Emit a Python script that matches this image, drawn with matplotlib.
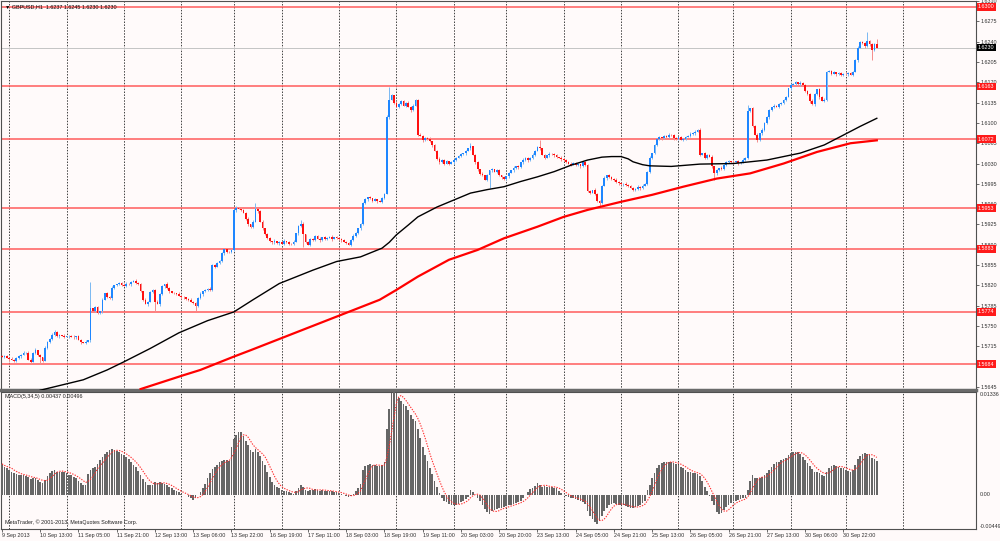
import numpy as np
import pandas as pd
import matplotlib.pyplot as plt
from matplotlib.transforms import blended_transform_factory

# GBPUSD H1, closes in pips above 1.5600 (one row = 24 bars)
close_pips = [
    97, 98, 95, 93, 92, 90, 94, 98, 100, 103, 104, 92, 88, 104, 108, 100, 96, 90, 112, 122, 128, 135, 140, 132,
    134, 133, 131, 132, 133, 131, 130, 132, 126, 122, 121, 123, 125, 180, 176, 182, 172, 175, 195, 206, 200, 198, 215, 220,
    222, 224, 221, 219, 223, 222, 226, 228, 224, 222, 210, 195, 188, 192, 208, 212, 192, 188, 205, 218, 222, 215, 210, 207,
    206, 205, 202, 200, 199, 196, 195, 192, 190, 184, 198, 205, 210, 212, 214, 212, 255, 252, 258, 262, 275, 282, 278, 277,
    280, 350, 354, 352, 350, 345, 335, 325, 320, 330, 352, 348, 330, 318, 308, 302, 296, 294, 296, 293, 295, 292, 296, 294,
    292, 291, 295, 310, 322, 326, 308, 295, 290, 300, 298, 305, 300, 298, 303, 300, 302, 304, 300, 303, 302, 299, 298, 295,
    293, 290, 298, 305, 310, 318, 325, 362, 368, 372, 370, 366, 368, 365, 364, 370, 378, 510, 540, 548, 535, 528, 532, 538,
    530, 535, 528, 522, 530, 540, 480, 478, 470, 474, 472, 468, 462, 452, 438, 432, 436, 430, 434, 430, 432, 436, 440, 443,
    446, 448, 452, 456, 460, 445, 432, 420, 412, 410, 402, 410, 418, 420, 416, 419, 410, 406, 403, 408, 414, 418, 422, 425,
    424, 432, 436, 440, 436, 440, 445, 452, 458, 456, 445, 440, 444, 447, 446, 444, 441, 440, 438, 436, 433, 430, 428, 431,
    427, 429, 425, 432, 428, 382, 380, 384, 378, 365, 362, 392, 405, 410, 406, 404, 402, 398, 396, 394, 395, 393, 392, 388,
    384, 386, 390, 388, 392, 395, 415, 440, 448, 462, 472, 475, 474, 478, 476, 480, 479, 474, 472, 475, 471, 473, 476, 478,
    481, 483, 485, 488, 445, 448, 440, 445, 442, 425, 414, 418, 422, 420, 428, 432, 434, 433, 432, 434, 431, 433, 436, 440,
    520, 525, 495, 480, 470, 482, 488, 500, 510, 522, 527, 530, 528, 532, 535, 540, 545, 560, 566, 568, 570, 567, 569, 566,
    555, 550, 538, 532, 550, 558, 545, 538, 540, 588, 590, 585, 587, 584, 586, 583, 585, 584, 586, 583, 588, 608, 630, 640,
    638, 632, 642, 636, 626, 637, 630,
]
first_open = 1.5698

# wick lengths in pips beyond the body, one digit per bar
up_wick = (
    "212131221312213121321231" "213121312212131221312131" "121321213121312213121321"
    "213121231213121312213121" "312131221312131221312131" "213121312212131221312131"
    "121321213121312213121321" "213121231213121312213121" "312131221312131221312131"
    "213121312212131221312131" "121321213121312213121321" "213121231213121312213121"
    "312131221312131221312131" "213121312212131221312131" "121321213121312213121321"
    "2131218"
)
dn_wick = (
    "121312213121312213121321" "312131221312131221312132" "213121312212131221312131"
    "121321213121312213121321" "213121231213121312213121" "312131221312131221312131"
    "213121312212131221312131" "121321213121312213121321" "213121231213121312213121"
    "312131221312131221312131" "213121312212131221312131" "121321213121312213121321"
    "213121231213121312213121" "312131221312131221312131" "213121312212131221312131"
    "1213120"
)
spike_highs = [(37, 226), (106, 362), (125, 332), (162, 562), (196, 465), (225, 470), (312, 531), (362, 657)]
spike_lows = [(16, 84), (64, 174), (81, 176), (126, 286), (204, 387), (250, 355), (298, 401), (364, 608)]

# moving averages (bar index, pips above 1.5600)
black_bars = [16, 34, 44, 51, 62, 74, 86, 97, 105, 116, 130, 140, 150, 159, 162, 165, 170, 174, 182, 189, 196, 203,
              210, 217, 224, 231, 238, 245, 251, 255, 259, 262, 264, 268, 271, 280, 292, 306, 320, 334, 344, 352, 359, 366]
black_pips = [39, 57, 74, 88, 111, 138, 159, 174, 195, 223, 246, 261, 269, 284, 294, 307, 324, 338, 355, 367, 379, 385,
              390, 399, 407, 416, 427, 436, 441, 442, 442, 438, 433, 428, 426, 425, 429, 430, 436, 448, 462, 479, 494, 508]
red_bars = [58, 76, 83, 97, 104, 158, 165, 174, 187, 199, 210, 224, 235, 245, 259, 272, 285, 299, 313, 327, 341, 355, 366]
red_pips = [41, 65, 74, 97, 108, 195, 212, 235, 264, 281, 301, 321, 338, 350, 364, 376, 390, 404, 413, 430, 450, 465, 470]

levels = [1.6300, 1.6163, 1.6072, 1.5953, 1.5883, 1.5774, 1.5684]
bid = 1.6230

# MACD(5,34,5) main line, in 0.001
macd_vals = [
    4.0, 3.6, 3.4, 3.2, 3.0, 2.8, 2.7, 2.6, 2.5, 2.5, 2.4, 2.3, 2.0, 2.1, 2.2, 1.9, 1.6, 1.5, 1.9, 2.4, 2.8, 3.1, 3.2, 3.0,
    3.0, 3.0, 2.9, 2.8, 2.6, 2.5, 2.3, 2.1, 1.8, 1.5, 1.3, 1.2, 2.7, 3.2, 3.4, 3.6, 4.0, 4.5, 4.9, 5.3, 5.6, 5.8, 5.9, 5.8,
    5.7, 5.5, 5.3, 5.1, 4.9, 4.6, 4.3, 3.9, 3.6, 3.1, 2.6, 2.0, 1.6, 1.3, 1.2, 1.3, 1.6, 1.5, 1.6, 1.5, 1.4, 1.2, 1.0, 0.8,
    0.6, 0.4, 0.3, 0.1, 0.0, -0.1, -0.3, -0.5, -0.7, -0.4, -0.1, 0.3, 0.8, 1.4, 2.2, 2.8, 3.3, 3.6, 3.9, 4.2, 4.4, 4.5, 4.5, 4.4,
    6.2, 7.2, 7.8, 8.2, 8.1, 7.6, 7.0, 6.4, 5.8, 5.6, 5.9, 5.6, 5.0, 4.4, 3.8, 3.0, 2.3, 1.6, 1.2, 1.0, 0.8, 0.6, 0.5, 0.4,
    0.3, 0.2, 0.1, 0.4, 0.9, 1.3, 1.0, 0.6, 0.5, 0.6, 0.6, 0.7, 0.6, 0.5, 0.6, 0.5, 0.5, 0.4, 0.4, 0.3, 0.3, 0.2, 0.1, -0.1,
    -0.2, -0.3, -0.2, 0.1, 0.4, 0.8, 1.4, 3.2, 3.7, 3.9, 4.0, 3.9, 3.8, 3.7, 3.7, 3.8, 4.2, 8.5, 11.2, 13.2, 13.36, 13.2, 12.6, 12.2,
    11.8, 11.5, 11.0, 10.4, 9.9, 9.6, 8.6, 7.4, 6.2, 5.2, 4.4, 3.5, 2.7, 1.8, 1.0, 0.2, -0.4, -0.8, -1.0, -1.2, -1.3, -1.4, -1.3, -1.2,
    -1.0, -0.8, -0.6, -0.3, 0.6, 0.3, 0.0, -0.4, -0.9, -1.4, -1.9, -2.3, -2.6, -2.2, -2.0, -1.9, -1.8, -1.7, -1.6, -1.5, -1.4, -1.3, -1.2, -1.1,
    -1.0, -0.8, -0.5, -0.1, 0.3, 0.7, 0.9, 1.1, 1.5, 1.3, 1.0, 1.1, 1.0, 1.0, 1.0, 0.9, 0.8, 0.5, 0.2, 0.0, -0.2, -0.3, -0.4, -0.5,
    -0.6, -0.7, -0.8, -1.0, -1.2, -2.2, -2.8, -3.2, -3.6, -3.9, -3.4, -2.8, -2.2, -1.7, -1.4, -1.2, -1.1, -1.2, -1.3, -1.3, -1.4, -1.5, -1.6, -1.7,
    -1.7, -1.6, -1.5, -1.3, -1.1, -0.8, 0.6, 1.3, 2.1, 2.8, 3.4, 3.9, 4.1, 4.3, 4.3, 4.3, 4.2, 4.1, 4.0, 3.9, 3.6, 3.4, 3.2, 3.0,
    2.9, 2.8, 2.8, 2.7, 2.4, 1.7, 1.0, 0.4, -0.2, -0.8, -1.4, -2.3, -2.6, -2.4, -2.0, -1.6, -1.3, -1.1, -0.9, -0.8, -0.7, -0.6, -0.5, -0.4,
    0.6, 1.8, 2.5, 2.2, 2.1, 2.2, 2.3, 2.5, 2.8, 3.2, 3.6, 4.0, 4.2, 4.3, 4.5, 4.6, 4.8, 5.2, 5.4, 5.6, 5.6, 5.5, 5.3, 4.9,
    4.5, 4.1, 3.7, 3.3, 3.0, 3.0, 2.8, 2.6, 2.4, 3.0, 3.4, 3.7, 3.8, 3.7, 3.6, 3.5, 3.4, 3.2, 3.1, 3.0, 3.2, 3.8, 4.6, 5.0,
    5.3, 5.4, 5.3, 5.1, 4.8, 4.6, 4.37,
]

date_labels = ["9 Sep 2013", "10 Sep 13:00", "11 Sep 05:00", "11 Sep 21:00", "12 Sep 13:00", "13 Sep 06:00",
               "13 Sep 22:00", "16 Sep 19:00", "17 Sep 11:00", "18 Sep 03:00", "18 Sep 19:00", "19 Sep 11:00",
               "20 Sep 03:00", "20 Sep 20:00", "23 Sep 13:00", "24 Sep 05:00", "24 Sep 21:00", "25 Sep 13:00",
               "26 Sep 05:00", "26 Sep 21:00", "27 Sep 13:00", "30 Sep 06:00", "30 Sep 22:00"]
grid_bars = [3, 27, 51, 75, 97, 117, 141, 165, 189, 211, 235, 259, 283, 306, 330, 353, 377]

# ---- build OHLC
N = len(close_pips)
x = np.arange(N)
close = 1.56 + np.array(close_pips) / 1e4
open_ = np.r_[first_open, close[:-1]]
high = np.maximum(open_, close) + np.array([int(c) for c in up_wick]) / 1e4
low = np.minimum(open_, close) - np.array([int(c) for c in dn_wick]) / 1e4
for i, v in spike_highs:
    high[i] = max(high[i], 1.56 + v / 1e4)
for i, v in spike_lows:
    low[i] = min(low[i], 1.56 + v / 1e4)

macd = np.array(macd_vals) / 1000
signal = pd.Series(macd).rolling(5, min_periods=1).mean().values

plt.rcParams['font.family'] = ['Liberation Sans', 'DejaVu Sans']
plt.rcParams['font.size'] = 3.9
bg = '#fffafa'
fig = plt.figure(figsize=(10, 5.41), dpi=100, facecolor=bg)
ax = fig.add_axes([0.001, 1 - 390 / 541, 0.975, 389 / 541], facecolor=bg)
ax2 = fig.add_axes([0.001, 1 - 529 / 541, 0.975, 137 / 541], facecolor=bg)

for a in (ax, ax2):
    a.set_xlim(-0.42, 407.5)
    for gx in grid_bars:
        a.axvline(gx, color='#404040', lw=0.7, ls=(0, (1.5, 1.5)), zorder=1)
    for s in a.spines.values():
        s.set_color('#505050')
        s.set_linewidth(0.8)

# ---- price panel
ax.set_ylim(1.56394, 1.63103)
for lv in levels:
    ax.axhline(lv, color='#ff5c5c', lw=1.1, zorder=2)
ax.axhline(bid, color='#c4c4c4', lw=0.7, zorder=2)

bull = close >= open_
bear = ~bull
ax.vlines(x[bull], low[bull], high[bull], color='#7ab8f2', lw=0.7, zorder=3)
ax.vlines(x[bear], low[bear], high[bear], color='#f48c8c', lw=0.7, zorder=3)
body_lo = np.minimum(open_, close)
body_h = np.maximum(np.abs(close - open_), 0.00005)
ax.bar(x[bull], body_h[bull], bottom=body_lo[bull], width=0.72, color='#1e86ff', lw=0, zorder=4)
ax.bar(x[bear], body_h[bear], bottom=body_lo[bear], width=0.72, color='#ff1010', lw=0, zorder=4)

ax.plot(np.array(black_bars), 1.56 + np.array(black_pips) / 1e4, color='black', lw=1.0, zorder=5)
ax.plot(np.array(red_bars), 1.56 + np.array(red_pips) / 1e4, color='#ff0000', lw=1.6, zorder=5)

# price scale every 35 pips; a label hidden under a line's box is left out
ticks = np.round(np.arange(1.5645, 1.63101, 0.0035), 4)
ax.yaxis.tick_right()
ax.set_yticks(ticks)
ax.set_yticklabels(['' if min(abs(t - lv) for lv in levels) < 0.0005 else f'{t:.4f}' for t in ticks])
ax.tick_params(axis='y', length=2, width=0.5, pad=1.5, colors='#303030', labelsize=3.9)
ax.set_xticks([])
ax.spines['bottom'].set_linewidth(2.5)
ax.spines['bottom'].set_color('#6a6a6a')

tr = blended_transform_factory(ax.transAxes, ax.transData)
for lv in levels:
    ax.text(1.002, lv, f'{lv:.4f}', transform=tr, ha='left', va='center', color='white', fontsize=3.9,
            bbox=dict(boxstyle='square,pad=0.25', fc='#ff1a1a', ec='none'), clip_on=False, zorder=10)
ax.text(1.002, bid, f'{bid:.4f}', transform=tr, ha='left', va='center', color='white', fontsize=3.9,
        bbox=dict(boxstyle='square,pad=0.25', fc='black', ec='none'), clip_on=False, zorder=10)

ax.text(0.004, 0.992, '\u25bc GBPUSD,H1  1.6237 1.6245 1.6230 1.6230', transform=ax.transAxes,
        ha='left', va='top', fontsize=3.9, color='black')

# ---- MACD panel
ax2.set_ylim(-0.00449, 0.01336)
ax2.bar(x, macd, width=0.7, color='#666666', lw=0, zorder=3)
ax2.plot(x, signal, color='#ff3030', lw=0.8, ls=(0, (1.2, 1.2)), zorder=4)
ax2.set_yticks([])
tr2 = blended_transform_factory(ax2.transAxes, ax2.transData)
ax2.text(1.004, 0.01336, '0.01336', transform=tr2, ha='left', va='top', fontsize=3.9, color='#303030')
ax2.text(1.004, 0.0, '0.00', transform=tr2, ha='left', va='center', fontsize=3.9, color='#303030')
ax2.text(1.004, -0.00449, '-0.00449', transform=tr2, ha='left', va='bottom', fontsize=3.9, color='#303030')
ax2.text(0.004, 0.985, 'MACD(5,34,5) 0.00437 0.00496', transform=ax2.transAxes, ha='left', va='top',
         fontsize=3.9, color='#202020')
ax2.text(0.004, 0.03, 'MetaTrader, \u00a9 2001-2013, MetaQuotes Software Corp.', transform=ax2.transAxes,
         ha='left', va='bottom', fontsize=3.9, color='#202020')

ax2.set_xticks(np.arange(len(date_labels)) * 16)
ax2.set_xticklabels(date_labels, ha='left')
ax2.tick_params(axis='x', length=2, width=0.5, pad=1.2, colors='#303030', labelsize=3.9)

fig.savefig('out.png', dpi=100, facecolor=bg)
